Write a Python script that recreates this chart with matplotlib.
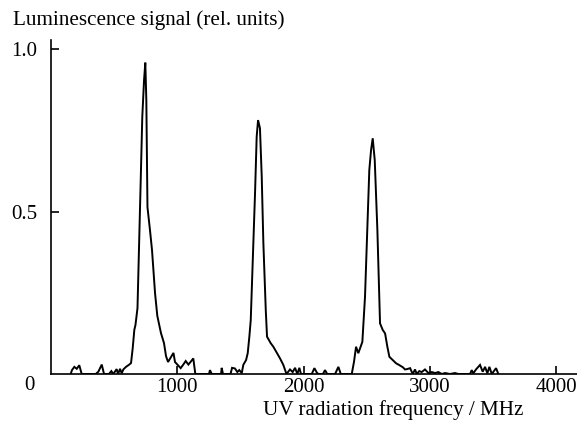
import matplotlib
matplotlib.use("Agg")
import matplotlib.pyplot as plt

# luminescence trace (frequency in MHz, signal in rel. units)
freq = [156, 166, 185, 204, 224, 243,
        354, 375, 402, 420, 459, 478, 493, 520, 531, 547, 560, 573, 594, 620,
        634, 647, 660, 669, 685, 697, 710, 723, 737, 747, 755, 764, 784, 800,
        824, 842, 871, 895, 911, 927, 950, 970, 982, 996, 1027, 1046, 1067,
        1088, 1105, 1127, 1143,
        1251, 1259, 1273, 1347, 1352, 1362,
        1422, 1434, 1457, 1476, 1491, 1511, 1523, 1545, 1558, 1571, 1582, 1598,
        1616, 1629, 1640, 1655, 1669, 1682, 1701, 1711, 1740, 1761, 1788, 1814,
        1840, 1865,
        1893, 1914, 1933, 1951, 1967, 1980, 2065, 2086, 2109, 2123, 2154, 2170,
        2188, 2250, 2276, 2295,
        2382, 2400, 2416, 2434, 2466, 2487, 2505, 2521, 2535, 2548, 2564, 2585,
        2606, 2627, 2646, 2664, 2680, 2707, 2733, 2756, 2786, 2804, 2820, 2844,
        2865, 2883, 2897, 2917, 2936, 2962, 2989, 3016, 3042, 3068, 3095, 3121,
        3160, 3200, 3226,
        3319, 3332, 3345, 3366, 3398, 3419, 3438, 3456, 3472, 3491, 3525, 3543]
signal = [0, 0.012, 0.022, 0.016, 0.027, 0,
          0, 0.007, 0.029, 0, 0, 0.009, 0, 0.015, 0, 0.016, 0.002, 0.014, 0.022, 0.029,
          0.034, 0.079, 0.136, 0.151, 0.203, 0.382, 0.588, 0.792, 0.905, 0.959, 0.844, 0.514, 0.443, 0.382,
          0.249, 0.179, 0.126, 0.095, 0.055, 0.037, 0.052, 0.065, 0.037, 0.031, 0.018, 0.028, 0.040,
          0.029, 0.037, 0.048, 0,
          0, 0.012, 0, 0, 0.019, 0,
          0, 0.019, 0.017, 0.006, 0.012, 0.003, 0.028, 0.043, 0.064, 0.115, 0.166, 0.351,
          0.557, 0.731, 0.782, 0.757, 0.608, 0.403, 0.197, 0.115, 0.095, 0.084, 0.066, 0.048,
          0.028, 0,
          0.014, 0.006, 0.019, 0, 0.019, 0, 0, 0.018, 0.002, 0, 0, 0.012,
          0, 0, 0.022, 0,
          0, 0.038, 0.084, 0.064, 0.099, 0.238, 0.443, 0.628, 0.690, 0.726, 0.659, 0.443,
          0.156, 0.136, 0.125, 0.084, 0.053, 0.043, 0.033, 0.028, 0.021, 0.014, 0.015, 0.018,
          0, 0.014, 0, 0.009, 0.006, 0.014, 0.003, 0.006, 0.003, 0.006, 0, 0.003,
          0, 0.003, 0,
          0, 0.012, 0.002, 0.014, 0.028, 0.007, 0.022, 0.002, 0.022, 0, 0.018, 0]

x_ticks = [1000, 2000, 3000, 4000]
y_ticks = [0.5, 1.0]

plt.rcParams['font.family'] = ['Liberation Serif', 'DejaVu Serif']

fig = plt.figure(figsize=(5.77, 4.26), dpi=100)
ax = fig.add_axes([51 / 577, 52 / 426, 526 / 577, 334 / 426])

ax.plot(freq, signal, color='black', lw=1.4, solid_joinstyle='miter')

ax.set_xlim(0, 4166)
ax.set_ylim(0, 1.0287)
ax.spines['top'].set_visible(False)
ax.spines['right'].set_visible(False)
ax.spines['left'].set_linewidth(1.2)
ax.spines['bottom'].set_linewidth(1.2)

ax.set_xticks(x_ticks)
ax.set_xticklabels([str(t) for t in x_ticks])
ax.set_yticks(y_ticks)
ax.set_yticklabels(['%.1f' % t for t in y_ticks])
ax.tick_params(axis='both', direction='in', length=6, width=1.2, labelsize=15)
ax.tick_params(axis='x', pad=3)
ax.tick_params(axis='y', pad=10)

ax.annotate('0', xy=(0, 0), xytext=(-22, -11), textcoords='offset pixels',
            ha='center', va='center', fontsize=15)

fig.text(13 / 577, 1 - 20 / 426, 'Luminescence signal (rel. units)',
         ha='left', va='center', fontsize=15.2)
fig.text(393 / 577, 1 - 410 / 426, 'UV radiation frequency / MHz',
         ha='center', va='center', fontsize=15.2)

fig.savefig('out.png', dpi=100)
